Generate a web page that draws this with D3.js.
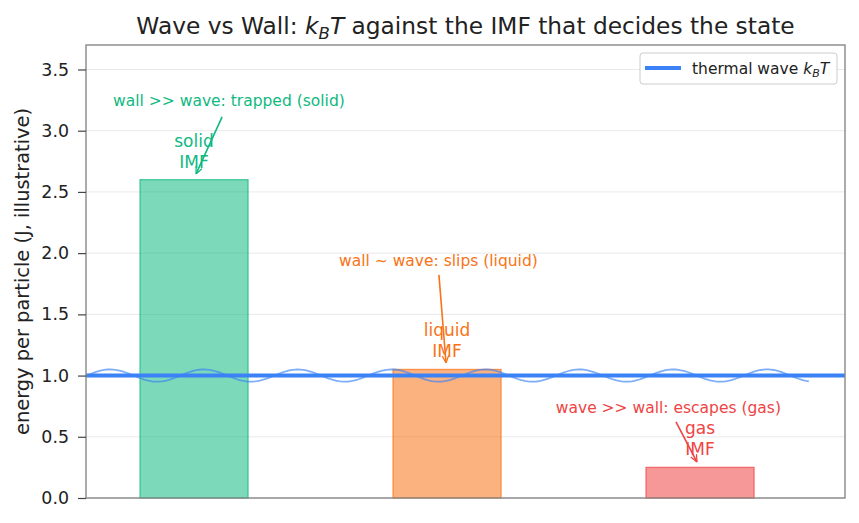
<!DOCTYPE html>
<html><head><meta charset="utf-8">
<script src="https://cdn.jsdelivr.net/npm/d3@7"></script>
<style>body{margin:0;background:#fff}svg{font-family:"DejaVu Sans",sans-serif}</style>
</head><body><svg id="c" width="859" height="523"></svg>
<script>
const categories = ["solid", "liquid", "gas"];
const imfValues = [2.6, 1.05, 0.25];
const barLabels = ["solid\nIMF", "liquid\nIMF", "gas\nIMF"];
const colors = ["#10b981", "#f97316", "#ef4444"];
const kBT = 1.0;
const yTicks = [0, 0.5, 1.0, 1.5, 2.0, 2.5, 3.0, 3.5];
const annotations = [
  {text: "wall >> wave: trapped (solid)", tx: 0.138, ty: 3.203, sx: 0.111, sy: 3.113, ax: 0.008, ay: 2.647},
  {text: "wall ~ wave: slips (liquid)", tx: 0.966, ty: 1.895, sx: 0.968, sy: 1.822, ax: 0.996, ay: 1.103},
  {text: "wave >> wall: escapes (gas)", tx: 1.875, ty: 0.694, sx: 1.905, sy: 0.621, ax: 1.988, ay: 0.294}
];
// wave sample x positions (data units) and amplitude
const waveX = d3.range(-0.43, 2.44, 0.01);
const waveAmp = 0.05, wavePeriod = 0.371, wavePeak = -0.332;

const svg = d3.select("#c");
const m = {l: 86, r: 845, t: 45, b: 498};
const x = d3.scaleLinear().domain([-0.427, 2.573]).range([m.l, m.r]);
const y = d3.scaleLinear().domain([0, 3.7]).range([m.b, m.t]);
const bw = 0.427;

const defs = svg.append("defs");
colors.forEach((c, i) => {
  defs.append("marker").attr("id", "ar" + i).attr("viewBox", "0 0 10 10").attr("refX", 10).attr("refY", 5)
    .attr("markerWidth", 8).attr("markerHeight", 8).attr("markerUnits", "userSpaceOnUse").attr("orient", "auto")
    .append("path").attr("d", "M1,1 L10,5 L1,9").attr("fill", "none").attr("stroke", c).attr("stroke-width", 1.6);
});
defs.append("clipPath").attr("id", "clip").append("rect").attr("x", m.l).attr("y", m.t).attr("width", m.r - m.l).attr("height", m.b - m.t);

// grid
svg.append("g").selectAll("line").data(yTicks).join("line")
  .attr("x1", m.l).attr("x2", m.r).attr("y1", d => y(d)).attr("y2", d => y(d))
  .attr("stroke", "#e5e5e5").attr("stroke-width", 0.9);

// bars
svg.append("g").selectAll("rect").data(imfValues).join("rect")
  .attr("x", (d, i) => x(i - bw / 2)).attr("width", x(bw) - x(0))
  .attr("y", d => y(d)).attr("height", d => y(0) - y(d))
  .attr("fill", (d, i) => colors[i]).attr("fill-opacity", 0.55)
  .attr("stroke", (d, i) => colors[i]).attr("stroke-opacity", 0.7).attr("stroke-width", 1.3);

// wave
const g = svg.append("g").attr("clip-path", "url(#clip)");
g.append("path").datum(waveX)
  .attr("d", d3.line().x(d => x(d)).y(d => y(kBT + waveAmp * Math.cos(2 * Math.PI * (d - wavePeak) / wavePeriod))))
  .attr("fill", "none").attr("stroke", "#3b82f6").attr("stroke-opacity", 0.65).attr("stroke-width", 1.8);
g.append("line").attr("x1", m.l).attr("x2", m.r).attr("y1", y(kBT)).attr("y2", y(kBT))
  .attr("stroke", "#3b82f6").attr("stroke-width", 4);

// bar labels
barLabels.forEach((lab, i) => {
  const lines = lab.split("\n");
  const t = svg.append("text").attr("text-anchor", "middle").attr("fill", colors[i]).attr("font-size", 17);
  lines.forEach((ln, k) => {
    t.append("tspan").attr("x", x(i)).attr("y", y(imfValues[i]) - 33 + k * 21).text(ln);
  });
});

// annotations
annotations.forEach((a, i) => {
  svg.append("text").attr("x", x(a.tx)).attr("y", y(a.ty)).attr("text-anchor", "middle")
    .attr("fill", colors[i]).attr("font-size", 15.5).text(a.text);
  svg.append("line").attr("x1", x(a.sx)).attr("y1", y(a.sy)).attr("x2", x(a.ax)).attr("y2", y(a.ay))
    .attr("stroke", colors[i]).attr("stroke-width", 1.6).attr("marker-end", "url(#ar" + i + ")");
});

// frame
svg.append("rect").attr("x", m.l).attr("y", m.t).attr("width", m.r - m.l).attr("height", m.b - m.t)
  .attr("fill", "none").attr("stroke", "#888").attr("stroke-width", 1.4);

// y axis
const ya = svg.append("g").attr("transform", `translate(${m.l},0)`)
  .call(d3.axisLeft(y).tickValues(yTicks).tickFormat(d3.format(".1f")).tickSize(8).tickPadding(9));
ya.select(".domain").remove();
ya.selectAll(".tick line").attr("stroke", "#444").attr("stroke-width", 1.2);
ya.selectAll(".tick text").attr("font-size", 17.4).attr("fill", "#222").attr("font-family", "DejaVu Sans");

svg.append("text").attr("transform", `translate(29,${(m.t + m.b) / 2}) rotate(-90)`)
  .attr("text-anchor", "middle").attr("font-size", 19.4).attr("fill", "#222")
  .text("energy per particle (J, illustrative)");

// title
const title = svg.append("text").attr("x", (m.l + m.r) / 2).attr("y", 34).attr("text-anchor", "middle")
  .attr("font-size", 23.3).attr("fill", "#222");
title.append("tspan").text("Wave vs Wall: ");
title.append("tspan").attr("font-style", "italic").text("k");
title.append("tspan").attr("font-style", "italic").attr("font-size", 16.5).attr("dy", 5).text("B");
title.append("tspan").attr("font-style", "italic").attr("dy", -5).text("T");
title.append("tspan").text(" against the IMF that decides the state");

// legend
const lg = svg.append("g");
lg.append("rect").attr("x", 640).attr("y", 53).attr("width", 197).attr("height", 31).attr("rx", 3)
  .attr("fill", "#fff").attr("fill-opacity", 0.9).attr("stroke", "#ccc");
lg.append("line").attr("x1", 645).attr("x2", 681).attr("y1", 68).attr("y2", 68)
  .attr("stroke", "#3b82f6").attr("stroke-width", 4);
const lt = lg.append("text").attr("x", 692).attr("y", 73.5).attr("font-size", 15.5).attr("fill", "#222");
lt.append("tspan").text("thermal wave ");
lt.append("tspan").attr("font-style", "italic").text("k");
lt.append("tspan").attr("font-style", "italic").attr("font-size", 11).attr("dy", 3.5).text("B");
lt.append("tspan").attr("font-style", "italic").attr("dy", -3.5).text("T");
</script></body></html>
